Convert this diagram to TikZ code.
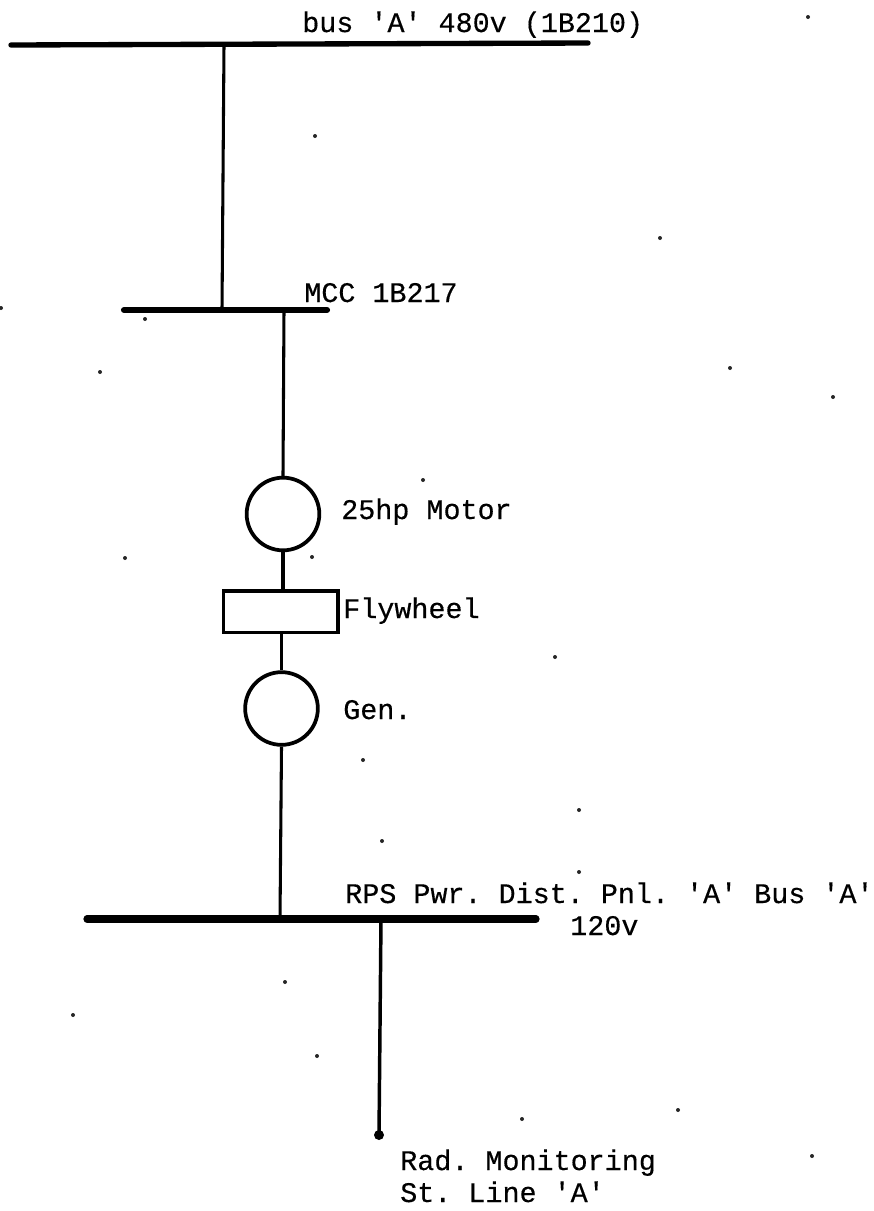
\documentclass[tikz,border=0pt]{standalone}
\usepackage{fontspec}
\setmainfont{Liberation Mono}[Ligatures=TeXOff,FakeBold=0.35]
\tikzset{
 busbar/.style={line width=4pt,line cap=round,black},
 wire/.style={line width=2.3pt,black},
 lbl/.style={anchor=base west,inner sep=0pt,font=\fontsize{21.3pt}{24pt}\selectfont\frenchspacing,text=black},
 mach/.style={circle,draw=black,line width=2.8pt,minimum size=54.5pt,inner sep=0pt},
 fly/.style={rectangle,draw=black,line width=2.5pt,minimum width=86pt,minimum height=31pt,inner sep=0pt},
 speck/.style={fill=black!85,circle,inner sep=0pt,minimum size=3pt}
}
\begin{document}
\begin{tikzpicture}[x=0.75pt,y=-0.75pt]
\useasboundingbox (0,0) rectangle (874,1211);
\fill[white] (0,0) rectangle (874,1211);
% buses
\coordinate (b1l) at (11,45); \coordinate (b1r) at (588,43);
\coordinate (b2l) at (124,310); \coordinate (b2r) at (327,310);
\coordinate (b3l) at (87,919); \coordinate (b3r) at (536,919);
\draw[busbar] (b1l) -- (b1r);
\draw[busbar,line width=4.6pt] (b2l) -- (b2r);
\draw[busbar,line width=5.4pt] (b3l) -- (b3r);
% machines
\node[mach] (motor) at (283,514) {};
\node[fly] (flywheel) at (280.5,611.5) {};
\node[mach] (gen) at (281.5,708.5) {};
% connectors
\coordinate (t1) at (224,45); \coordinate (t2) at (222,310);
\draw[wire] (t1) -- (t2);
\coordinate (m1) at (284,310);
\draw[wire] (m1) -- (motor.north);
\draw[wire] (motor.south) -- (flywheel.north -| motor.south);
\draw[wire] (flywheel.south -| gen.north) -- (gen.north);
\coordinate (r1) at (280,919);
\draw[wire] (gen.south) -- (r1);
\coordinate (r2) at (381,919); \coordinate (endpt) at (379,1135);
\draw[wire,line width=2.6pt] (r2) -- (endpt);
\fill[black] (endpt) circle (5);
% labels
\node[lbl] (l1) at (302,32) {bus 'A' 480v (1B210)};
\node[lbl] (l2) at (304,302) {MCC 1B217};
\node[lbl] (l4) at (341,519) {25hp Motor};
\node[lbl] (l5) at (343,618) {Flywheel};
\node[lbl] (l6) at (343,719) {Gen.};
\node[lbl] (l7) at (345,903) {RPS Pwr. Dist. Pnl. 'A' Bus 'A'};
\node[lbl] (l8) at (570,935) {120v};
\node[lbl] (l9) at (400,1170) {Rad. Monitoring};
\node[lbl] (l10) at (400,1202) {St. Line 'A'};
% specks of the scan
\foreach \sx/\sy in {315/136,145/319,423/480,312/557,363/760,579/810,382/841,579/872,285/982,317/1056,678/1110,522/1119,812/1156,73/1015,808/17,660/238,100/372,730/368,833/397,125/558,555/657,1/308}
  \node[speck] at (\sx,\sy) {};
\end{tikzpicture}
\end{document}
